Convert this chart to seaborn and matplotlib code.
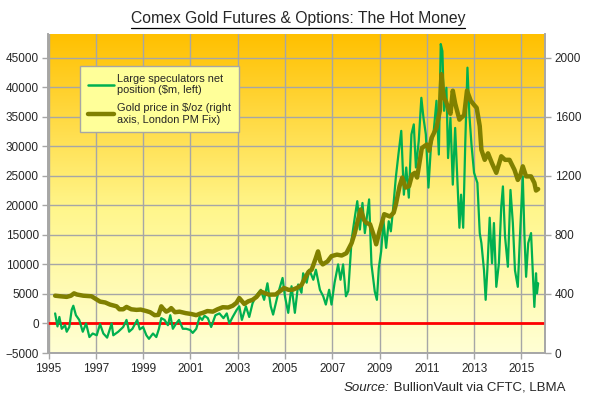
"""
hot_money.py
Comex gold futures & options: large speculators net position vs gold price.
"""

import numpy as np
import pandas as pd
import matplotlib
matplotlib.use("Agg")
import matplotlib.pyplot as plt
from matplotlib.lines import Line2D
import seaborn as sns

# ── Data ───────────────────────────────────────────────────────────────────────
spec_years = [
    1995.28, 1995.38, 1995.46, 1995.56, 1995.70, 1995.77, 1995.88, 1995.98, 1996.05, 1996.16,
    1996.30, 1996.45, 1996.59, 1996.73, 1996.87, 1997.04, 1997.18, 1997.32, 1997.48, 1997.67,
    1997.74, 1997.95, 1998.16, 1998.30, 1998.41, 1998.55, 1998.75, 1998.86, 1999.00, 1999.14,
    1999.25, 1999.42, 1999.56, 1999.67, 1999.77, 1999.91, 2000.05, 2000.15, 2000.26, 2000.40,
    2000.52, 2000.68, 2000.82, 2000.99, 2001.10, 2001.25, 2001.39, 2001.50, 2001.60, 2001.74,
    2001.88, 2002.06, 2002.23, 2002.40, 2002.54, 2002.65, 2002.79, 2002.96, 2003.07, 2003.18,
    2003.35, 2003.49, 2003.63, 2003.77, 2003.98, 2004.12, 2004.26, 2004.40, 2004.50, 2004.72,
    2004.90, 2005.00, 2005.14, 2005.28, 2005.42, 2005.56, 2005.70, 2005.77, 2005.92, 2006.03,
    2006.20, 2006.31, 2006.48, 2006.62, 2006.73, 2006.87, 2006.97, 2007.10, 2007.25, 2007.35,
    2007.46, 2007.58, 2007.68, 2007.82, 2007.96, 2008.06, 2008.17, 2008.28, 2008.38, 2008.56,
    2008.66, 2008.80, 2008.89, 2008.97, 2009.07, 2009.17, 2009.28, 2009.39, 2009.48, 2009.58,
    2009.69, 2009.80, 2009.92, 2010.03, 2010.13, 2010.24, 2010.35, 2010.45, 2010.54, 2010.66,
    2010.77, 2010.86, 2010.96, 2011.07, 2011.18, 2011.28, 2011.41, 2011.51, 2011.59, 2011.66,
    2011.73, 2011.83, 2011.90, 2012.00, 2012.10, 2012.20, 2012.31, 2012.38, 2012.45, 2012.54,
    2012.63, 2012.72, 2012.80, 2012.89, 2013.00, 2013.14, 2013.24, 2013.31, 2013.42, 2013.49,
    2013.56, 2013.66, 2013.76, 2013.84, 2013.94, 2014.05, 2014.15, 2014.22, 2014.31, 2014.43,
    2014.54, 2014.64, 2014.73, 2014.85, 2014.94, 2015.06, 2015.13, 2015.20, 2015.29, 2015.41,
    2015.48, 2015.55, 2015.62, 2015.66, 2015.71,
]
spec_net = [
    1700, -500, 1100, -900, -300, -1400, -600, 2300, 3000, 1400,
    600, -1400, 0, -2300, -1700, -2000, -100, -1700, -2400, 0,
    -2000, -1400, -600, 600, -1400, -900, 600, -1000, -600, -2000,
    -2600, -1700, -2300, -900, 900, 600, -300, 1400, -900, 0,
    600, -900, -900, -1100, -1600, -900, 1100, 600, 1300, 900,
    -600, 1400, 1700, 900, 1700, 0, 1100, 2300, 2900, 600,
    2900, 1100, 3400, 4600, 5700, 4000, 6800, 2900, 1500, 5200,
    7700, 4600, 1800, 6300, 1800, 6600, 5200, 8500, 6900, 9100,
    7400, 9100, 5700, 4600, 3200, 5700, 3200, 6900, 10000, 7400,
    10000, 4600, 5500, 14200, 18100, 20700, 15900, 20400, 15300, 21000,
    10000, 5400, 4000, 9400, 12200, 17300, 12800, 17300, 15600, 19600,
    24700, 28600, 32600, 21800, 26400, 21300, 32000, 33700, 26400, 30900,
    38200, 34800, 32000, 23000, 30300, 32000, 37700, 28600, 47300, 46100,
    36000, 39900, 28000, 34800, 23500, 33100, 23000, 16200, 21800, 16200,
    30900, 43300, 35400, 30300, 25500, 23800, 15300, 13600, 9000, 4000,
    9000, 17900, 10200, 17000, 6200, 10200, 19800, 23200, 14700, 9600,
    22600, 17000, 9000, 6200, 14700, 24900, 15000, 7900, 13600, 15300,
    9000, 2800, 8500, 5100, 6800,
]

gold_years = [
    1995.28, 1995.50, 1995.77, 1995.95, 1996.08, 1996.20, 1996.47, 1996.82, 1997.00, 1997.18,
    1997.40, 1997.60, 1997.88, 1998.00, 1998.16, 1998.30, 1998.50, 1998.72, 1998.90, 1999.14,
    1999.30, 1999.49, 1999.65, 1999.77, 1999.85, 1999.98, 2000.10, 2000.19, 2000.35, 2000.54,
    2000.80, 2001.04, 2001.25, 2001.40, 2001.53, 2001.72, 2001.95, 2002.15, 2002.37, 2002.60,
    2002.79, 2002.95, 2003.07, 2003.28, 2003.45, 2003.63, 2003.80, 2003.98, 2004.15, 2004.33,
    2004.50, 2004.61, 2004.80, 2004.96, 2005.15, 2005.32, 2005.50, 2005.70, 2005.85, 2006.00,
    2006.13, 2006.30, 2006.40, 2006.50, 2006.60, 2006.80, 2006.97, 2007.20, 2007.40, 2007.60,
    2007.82, 2007.95, 2008.06, 2008.20, 2008.35, 2008.45, 2008.60, 2008.75, 2008.86, 2009.00,
    2009.20, 2009.44, 2009.60, 2009.69, 2009.85, 2009.96, 2010.10, 2010.25, 2010.38, 2010.50,
    2010.59, 2010.79, 2011.00, 2011.10, 2011.20, 2011.41, 2011.55, 2011.62, 2011.68, 2011.73,
    2011.82, 2011.90, 2012.00, 2012.10, 2012.20, 2012.28, 2012.38, 2012.45, 2012.58, 2012.70,
    2012.86, 2013.00, 2013.11, 2013.24, 2013.31, 2013.45, 2013.59, 2013.76, 2013.94, 2014.15,
    2014.31, 2014.50, 2014.71, 2014.85, 2014.95, 2015.06, 2015.20, 2015.41, 2015.55, 2015.62,
    2015.71,
]
gold_price = [
    388, 384, 380, 388, 404, 396, 388, 384, 366, 348,
    342, 328, 316, 296, 296, 312, 296, 292, 294, 284,
    276, 256, 258, 316, 300, 280, 290, 304, 276, 280,
    270, 264, 256, 266, 272, 284, 280, 296, 310, 308,
    320, 340, 372, 332, 350, 360, 380, 416, 405, 395,
    396, 396, 420, 440, 428, 428, 440, 460, 508, 550,
    564, 640, 688, 620, 600, 620, 656, 666, 660, 676,
    744, 810, 880, 972, 900, 880, 872, 800, 736, 824,
    940, 924, 950, 1004, 1130, 1188, 1120, 1130, 1208, 1220,
    1188, 1388, 1412, 1370, 1456, 1524, 1640, 1888, 1780, 1728,
    1700, 1660, 1620, 1776, 1690, 1640, 1580, 1592, 1610, 1776,
    1708, 1680, 1660, 1536, 1376, 1308, 1352, 1284, 1220, 1332,
    1308, 1308, 1240, 1172, 1200, 1264, 1196, 1196, 1152, 1100,
    1110,
]

year_ticks = list(range(1995, 2016, 2))
left_ticks = list(range(-5000, 45001, 5000))
right_ticks = list(range(0, 2001, 400))

spec_label = "Large speculators net\nposition ($m, left)"
gold_label = "Gold price in $/oz (right\naxis, London PM Fix)"

# ── Style ──────────────────────────────────────────────────────────────────────
sns.set_style("white")
plt.rcParams["font.family"] = ["Liberation Sans", "DejaVu Sans"]
GRID = "#A6A6A6"
GREEN = "#00B050"
OLIVE = "#808000"

spec_df = pd.DataFrame({"year": spec_years, "net": spec_net})
gold_df = pd.DataFrame({"year": gold_years, "price": gold_price})

fig = plt.figure(figsize=(5.96, 3.98), dpi=100)
pos = [48.5 / 596, 1 - 353 / 398, (545 - 48.5) / 596, (353 - 34) / 398]

# gradient background behind the plot area
bg = fig.add_axes(pos, zorder=-1)
grad = np.linspace(0, 1, 256)[:, None]
top = np.array([255, 192, 0]) / 255
mid = np.array([255, 246, 140]) / 255
bot = np.array([255, 255, 212]) / 255
cols = np.where(grad < 0.55,
                top + (mid - top) * (grad / 0.55),
                mid + (bot - mid) * ((grad - 0.55) / 0.45))
bg.imshow(cols[:, None, :].reshape(256, 1, 3), aspect="auto", extent=[0, 1, 0, 1])
bg.axis("off")

ax = fig.add_axes(pos)
ax.patch.set_visible(False)
ax2 = ax.twinx()

ax.axhline(0, color="#FF0000", lw=2, zorder=3)
sns.lineplot(data=spec_df, x="year", y="net", ax=ax, color=GREEN, lw=1.6, zorder=4)
sns.lineplot(data=gold_df, x="year", y="price", ax=ax2, color=OLIVE, lw=3.2)

ax.set_xlim(1995, 2016)
ax.set_ylim(-5000, 49000)
ax2.set_ylim(0, 2160)
ax.set_xticks(year_ticks)
ax.set_yticks(left_ticks)
ax2.set_yticks(right_ticks)
ax.set_xlabel("")
ax.set_ylabel("")
ax2.set_ylabel("")

ax.grid(True, color=GRID, lw=1)
ax.set_axisbelow(True)
ax2.grid(False)
for a in (ax, ax2):
    for side in ("left", "right", "bottom"):
        a.spines[side].set_color(GRID)
        a.spines[side].set_linewidth(1.2)
    a.spines["top"].set_visible(False)
ax.tick_params(axis="both", which="both", direction="out", length=4, width=1,
               color=GRID, labelsize=8.5, pad=3, left=True, bottom=True)
ax2.tick_params(axis="y", direction="out", length=4, width=1, color=GRID,
                labelsize=8.5, pad=3, right=True)

handles = [Line2D([], [], color=GREEN, lw=1.8), Line2D([], [], color=OLIVE, lw=3.2)]
leg = ax2.legend(handles, [spec_label, gold_label], loc="upper left",
                 bbox_to_anchor=(80 / 596, 1 - 66 / 398), bbox_transform=fig.transFigure,
                 borderaxespad=0, fontsize=7.9, frameon=True, fancybox=False,
                 facecolor="#FFFF99", edgecolor=GRID, framealpha=1,
                 handlelength=2.4, labelspacing=0.7, borderpad=0.7, handletextpad=0.3)
leg.get_frame().set_linewidth(1)

# title with underline
title = fig.text(0.5, 1 - 19 / 398, "Comex Gold Futures & Options: The Hot Money",
                 ha="center", va="center", fontsize=11.3)

# source note, italic "Source:" followed by plain text
src = fig.text(565 / 596, 1 - 388 / 398, " BullionVault via CFTC, LBMA",
               ha="right", va="center", fontsize=9.5)
fig.canvas.draw()
r = fig.canvas.get_renderer()
bb = src.get_window_extent(r)
fig.text(bb.x0 / fig.bbox.width, 1 - 388 / 398, "Source:", ha="right", va="center",
         fontsize=9.5, style="italic")
tb = title.get_window_extent(r)
uy = (tb.y0 - 1) / fig.bbox.height
fig.add_artist(Line2D([tb.x0 / fig.bbox.width, tb.x1 / fig.bbox.width], [uy, uy],
                      color="black", lw=0.9, transform=fig.transFigure))

fig.savefig("out.png", dpi=100)
plt.close(fig)
